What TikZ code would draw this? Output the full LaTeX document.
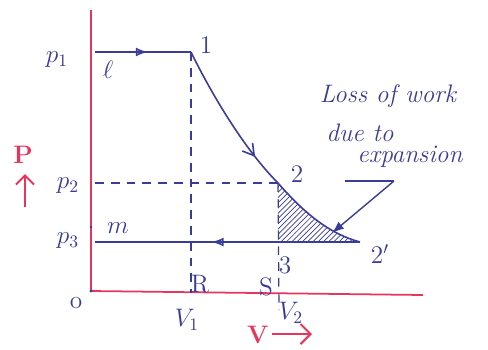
\documentclass[tikz,border=0pt]{standalone}
\usetikzlibrary{arrows.meta,decorations.markings,patterns}
\definecolor{ink}{HTML}{3B3B98}
\definecolor{redink}{HTML}{E8355E}
\tikzset{
  axis/.style={line width=1pt, draw=redink},
  curve/.style={line width=0.9pt, draw=ink},
  guide/.style={line width=0.7pt, draw=ink, dash pattern=on 5pt off 4pt},
  label/.style={font=\Large, text=ink, inner sep=1pt},
  redlabel/.style={font=\Large\bfseries, text=redink, inner sep=1pt},
  note/.style={font=\Large\itshape, text=ink, inner sep=1pt},
  midarrow/.style={postaction={decorate}, decoration={markings, mark=at position #1 with {\arrow{Latex[length=2.4mm,open]}}}},
  midback/.style={postaction={decorate}, decoration={markings, mark=at position #1 with {\arrowreversed{Latex[length=2.4mm,open]}}}},
  midbarb/.style={postaction={decorate}, decoration={markings, mark=at position #1 with {\arrow{Straight Barb[length=2.2mm,width=2.6mm]}}}},
  flow/.style={-{Latex[length=2.4mm]}, line width=0.8pt, draw=ink}
}
\begin{document}
\begin{tikzpicture}[x=0.2mm,y=-0.2mm]
\useasboundingbox (0,0) rectangle (488,349);

% Axes
\coordinate (o) at (91,291);
\coordinate (ytop) at (91,10);
\coordinate (xend) at (423,295);
\draw[axis] (ytop) -- (o) -- (xend);
\fill[ink] (o) circle (1.6);
\fill[ink] (91,227) circle (1.4);
\node[label] (olbl) at (76,303) {o};
\node[redlabel] (plbl) at (23,155) {P};
\coordinate (pa) at (25,207);
\coordinate (pb) at (25,174);
\draw[redink, line width=1.2pt, -{Straight Barb[length=1.8mm]}] (pa) -- (pb);
\node[redlabel] (vlbl) at (258,335) {V};
\coordinate (va) at (272,334);
\coordinate (vb) at (312,334);
\draw[redink, line width=1.2pt, -{Straight Barb[length=2mm]}] (va) -- (vb);

% State points
\coordinate (p1start) at (95,52);
\coordinate (s1) at (191,52);
\coordinate (s2) at (278,183);
\coordinate (s2b) at (360,242);
\coordinate (s3) at (278,242);
\coordinate (m) at (95,242);
\coordinate (p2start) at (95,183);
\coordinate (rfoot) at (191,293);
\coordinate (sfoot) at (279,310);

% Hatched loss
\fill[pattern=north east lines, pattern color=ink] (s2) .. controls (305,214) and (330,234) .. (s2b) -- (s3) -- cycle;

% Process lines
\draw[curve, midarrow=0.55] (p1start) -- (s1);
\draw[curve, midbarb=0.78] (s1) .. controls (212,95) and (245,150) .. (s2);
\draw[curve] (s2) .. controls (305,214) and (330,234) .. (s2b);
\draw[curve, midback=0.44] (m) -- (s2b);
\draw[guide] (s1) -- (rfoot);
\draw[guide] (p2start) -- (s2);
\draw[guide] (s2) -- (sfoot);

% Labels
\node[label] (lp1) at (57,60) {$p_1$};
\node[label] (ll) at (108,70) {$\ell$};
\node[label] (l1) at (206,45) {1};
\node[label] (lp2) at (68,186) {$p_2$};
\node[label] (lp3) at (68,241) {$p_3$};
\node[label] (lm) at (118,228) {$m$};
\node[label] (l2) at (297,174) {2};
\node[label] (l2b) at (380,254) {$2'$};
\node[label] (l3) at (285,265) {3};
\node[label] (lr) at (200,284) {R};
\node[label] (ls) at (266,287) {S};
\node[label] (lv1) at (187,320) {$V_1$};
\node[label] (lv2) at (291,313) {$V_2$};

% Note
\node[note] (n1) at (388,96) {Loss of work};
\node[note] (n2) at (360,133) {due to};
\node[note] (n3) at (410,157) {expansion};
\coordinate (ka) at (345,181);
\coordinate (kb) at (394,181);
\coordinate (kc) at (332,233);
\draw[ink, line width=0.8pt] (ka) -- (kb);
\draw[flow] (kb) -- (kc);
\end{tikzpicture}
\end{document}
